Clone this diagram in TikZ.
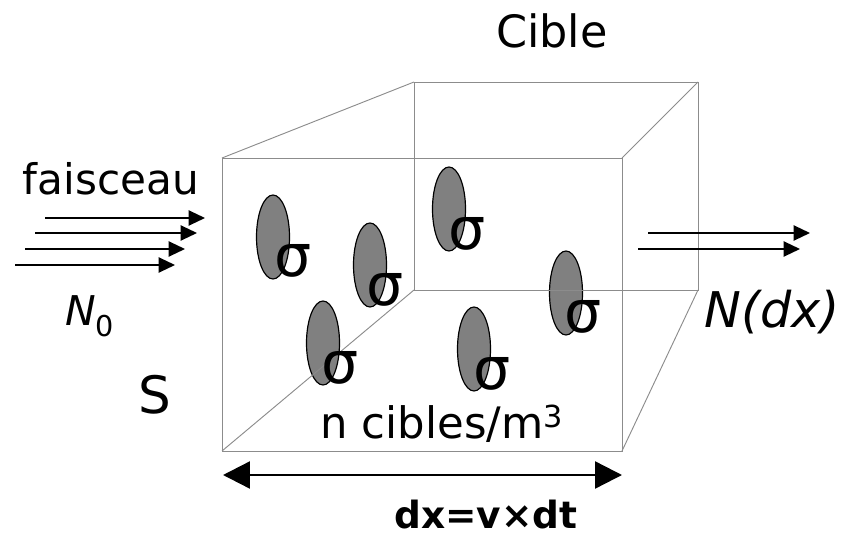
\documentclass[tikz,border=0pt]{standalone}
\usepackage{fontspec}
\setmainfont{DejaVu Sans}
\usepackage{tikz}
\usetikzlibrary{arrows.meta,shapes.geometric,positioning}

\begin{document}
\begin{tikzpicture}[x=0.03cm,y=-0.03cm,
    edge/.style={black!45,line width=0.8pt},
    disc/.style={ellipse,draw=black,fill=black!50,line width=1pt,
      minimum width=0.99cm,minimum height=2.52cm,inner sep=0pt},
    sig/.style={font=\fontsize{50}{52}\selectfont,inner sep=0pt},
    beam/.style={line width=1.4pt,-{Triangle[length=14pt,width=13pt]}},
    lbl/.style={anchor=base,inner sep=0pt}]
        \useasboundingbox (0,0) rectangle (843,539);
        % back face corners
        \coordinate (E) at (414,82);  \coordinate (F) at (698,82);
        \coordinate (G) at (698,290); \coordinate (H) at (414,290);
        % front face corners
        \coordinate (A) at (222,158); \coordinate (B) at (622,158);
        \coordinate (C) at (622,451); \coordinate (D) at (222,451);
        % targets
        \node[disc] (d1) at (273,237) {};
        \node[disc] (d2) at (370,265) {};
        \node[disc] (d3) at (323,343) {};
        \node[disc] (d4) at (449,209) {};
        \node[disc] (d5) at (566,293) {};
        \node[disc] (d6) at (474,349) {};
        \draw[edge] (E)--(F)--(G)--(H)--cycle;
        \draw[edge] (A)--(E) (B)--(F) (C)--(G) (D)--(H);
        \draw[edge] (A)--(B)--(C)--(D)--cycle;
        \node[sig] (s1) at (293,261) {σ};
        \node[sig] (s2) at (385,290) {σ};
        \node[sig] (s3) at (340,368) {σ};
        \node[sig] (s4) at (467,234) {σ};
        \node[sig] (s5) at (583,317) {σ};
        \node[sig] (s6) at (492,374) {σ};
        % incoming beam
        \foreach \i/\xs/\xe/\y in {1/45/205/218,2/35/197/233,3/25/185/249,4/15/175/265}{
          \coordinate (in\i) at (\xs,\y);
          \coordinate (ine\i) at (\xe,\y);
          \draw[beam] (in\i) -- (ine\i);
        }
        % outgoing beam
        \foreach \i/\xs/\xe/\y in {1/648/810/233,2/638/800/249}{
          \coordinate (out\i) at (\xs,\y);
          \coordinate (oute\i) at (\xe,\y);
          \draw[beam] (out\i) -- (oute\i);
        }
        % thickness
        \coordinate (dxl) at (223,475);
        \coordinate (dxr) at (622,475);
        \draw[line width=2pt,{Triangle[length=23pt,width=23pt]}-{Triangle[length=23pt,width=23pt]}]
          (dxl) -- (dxr);
        % labels
        \node[lbl,font=\fontsize{38}{40}\selectfont] (cible) at (552,48) {Cible};
        \node[lbl,font=\fontsize{36}{40}\selectfont] (faisc) at (111,195) {faisceau};
        \node[lbl,font=\fontsize{35}{40}\selectfont] (n0) at (90,325) {\itshape N\textsubscript{\upshape 0}};
        \node[lbl,font=\fontsize{44}{48}\selectfont] (surf) at (155,413) {S};
        \node[lbl,font=\fontsize{42}{46}\selectfont] (ndx) at (772,327) {\itshape N(dx)};
        \node[lbl,font=\fontsize{37}{40}\selectfont] (dens) at (442,438) {n cibles/m\textsuperscript{3}};
        \node[lbl,font=\fontsize{32}{34}\selectfont\bfseries] (epais) at (486,528) {dx=v×dt};
    \end{tikzpicture}
\end{document}
